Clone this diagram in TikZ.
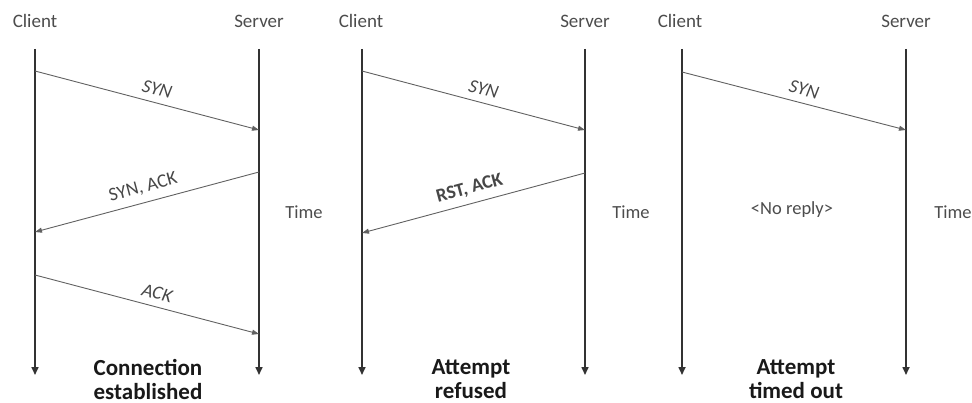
\documentclass[tikz,border=0pt]{standalone}
\usepackage{fontspec}
\setmainfont{Carlito}
\usetikzlibrary{arrows.meta}
\begin{document}
\begin{tikzpicture}[x=1pt,y=-1pt,
  lifeline/.style={draw=black!80, line width=1.6pt, -{Triangle[length=8pt,width=7pt]}},
  msg/.style={draw=black!62, line width=0.9pt, -{Triangle[length=7pt,width=5pt]}},
  party/.style={font=\fontsize{19}{22}\selectfont, text=black!70, inner sep=0pt},
  lbl/.style={font=\fontsize{19}{22}\selectfont, text=black!72, sloped, above, inner sep=0pt, yshift=7pt},
  note/.style={font=\fontsize{18.5}{22}\selectfont, text=black!70, inner sep=0pt},
  outcome/.style={font=\bfseries\fontsize{23}{24}\selectfont, align=center, text=black!90, inner sep=0pt}]
\useasboundingbox (0,0) rectangle (972,403);

% ---------- panel 1: connection established ----------
\node[party] (c1) at (35,21) {Client};
\node[party] (s1) at (259,21) {Server};
\coordinate (c1t) at (35,49);  \coordinate (c1b) at (35,375);
\coordinate (s1t) at (259,49); \coordinate (s1b) at (259,375);
\draw[lifeline] (c1t) -- (c1b);
\draw[lifeline] (s1t) -- (s1b);
\coordinate (p1a) at (35,71);  \coordinate (p1b) at (259,130);
\coordinate (p1c) at (259,172); \coordinate (p1d) at (35,232);
\coordinate (p1e) at (35,275); \coordinate (p1f) at (259,334);
\draw[msg] (p1a) -- node[lbl, pos=0.53] (syn1) {\itshape SYN} (p1b);
\draw[msg] (p1c) -- node[lbl, pos=0.5] (synack1) {SYN, ACK} (p1d);
\draw[msg] (p1e) -- node[lbl, pos=0.53] (ack1) {\itshape ACK} (p1f);
\node[note] (t1) at (304,212) {Time};
\node[outcome] (o1) at (148,379) {Connection\\established};

% ---------- panel 2: attempt refused ----------
\node[party] (c2) at (361,21) {Client};
\node[party] (s2) at (585,21) {Server};
\coordinate (c2t) at (362,49);  \coordinate (c2b) at (362,375);
\coordinate (s2t) at (585,49);  \coordinate (s2b) at (585,375);
\draw[lifeline] (c2t) -- (c2b);
\draw[lifeline] (s2t) -- (s2b);
\coordinate (p2a) at (362,71);  \coordinate (p2b) at (585,130);
\coordinate (p2c) at (585,173); \coordinate (p2d) at (362,233);
\draw[msg] (p2a) -- node[lbl, pos=0.53] (syn2) {\itshape SYN} (p2b);
\draw[msg] (p2c) -- node[lbl, pos=0.5] (rst2) {\bfseries RST, ACK} (p2d);
\node[note] (t2) at (631,212) {Time};
\node[outcome] (o2) at (471,379) {Attempt\\refused};

% ---------- panel 3: attempt timed out ----------
\node[party] (c3) at (680,21) {Client};
\node[party] (s3) at (906,21) {Server};
\coordinate (c3t) at (682,49);  \coordinate (c3b) at (682,375);
\coordinate (s3t) at (906,49);  \coordinate (s3b) at (906,375);
\draw[lifeline] (c3t) -- (c3b);
\draw[lifeline] (s3t) -- (s3b);
\coordinate (p3a) at (682,72);  \coordinate (p3b) at (906,130);
\draw[msg] (p3a) -- node[lbl, pos=0.53] (syn3) {\itshape SYN} (p3b);
\node[note] (nr3) at (792,210) {<No reply>};
\node[note] (t3) at (953,212) {Time};
\node[outcome] (o3) at (796,379) {Attempt\\timed out};
\end{tikzpicture}
\end{document}
